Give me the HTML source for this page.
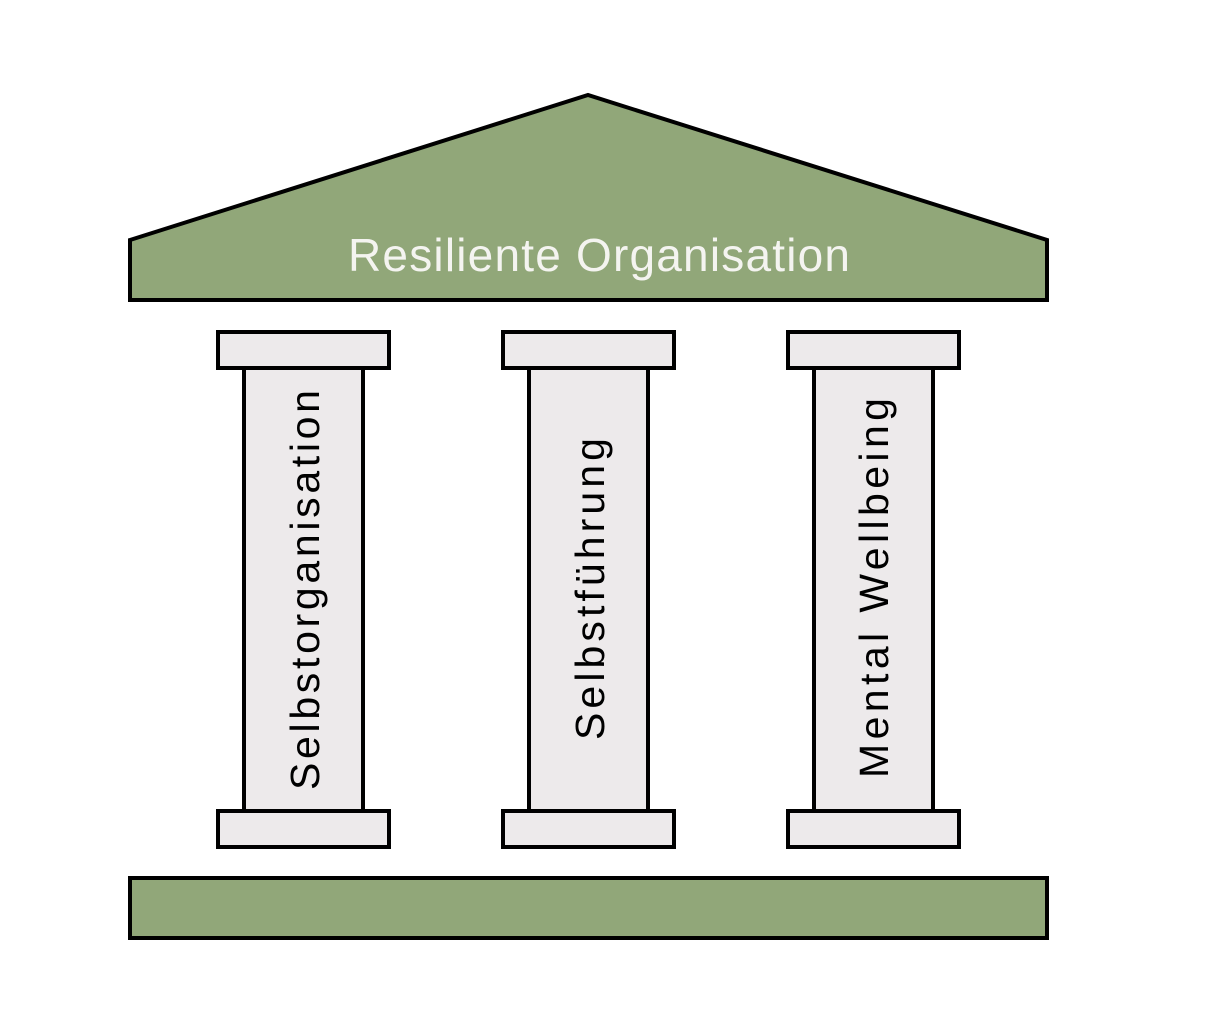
<!DOCTYPE html>
<html><head><meta charset="utf-8"><style>html,body{margin:0;padding:0;background:#fff}svg{display:block}</style></head>
<body>
<svg width="1207" height="1031" viewBox="0 0 1207 1031" xmlns="http://www.w3.org/2000/svg">
<g stroke="#000" stroke-width="4" stroke-linejoin="miter">
<polygon points="130,240 588,95 1047,240 1047,300 130,300" fill="#91a779"/>
<rect x="130" y="878" width="917" height="60" fill="#91a779"/>
<g fill="#edeaeb">
<rect x="244" y="366" width="119" height="446"/>
<rect x="218" y="332" width="171" height="36"/>
<rect x="218" y="811" width="171" height="36"/>
<rect x="529" y="366" width="119" height="446"/>
<rect x="503" y="332" width="171" height="36"/>
<rect x="503" y="811" width="171" height="36"/>
<rect x="814" y="366" width="119" height="446"/>
<rect x="788" y="332" width="171" height="36"/>
<rect x="788" y="811" width="171" height="36"/>
</g>
</g>
<g font-family="Liberation Sans, sans-serif" text-anchor="middle">
<text x="599" y="271" font-size="46" fill="#f4f4f0" textLength="502" lengthAdjust="spacing">Resiliente Organisation</text>
<text transform="translate(319,590) rotate(-90)" font-size="41" fill="#000" textLength="400" lengthAdjust="spacing">Selbstorganisation</text>
<text transform="translate(604,589) rotate(-90)" font-size="41" fill="#000" textLength="302" lengthAdjust="spacing">Selbstführung</text>
<text transform="translate(888,588) rotate(-90)" font-size="41" fill="#000" textLength="380" lengthAdjust="spacing">Mental Wellbeing</text>
</g>
</svg>
</body></html>
